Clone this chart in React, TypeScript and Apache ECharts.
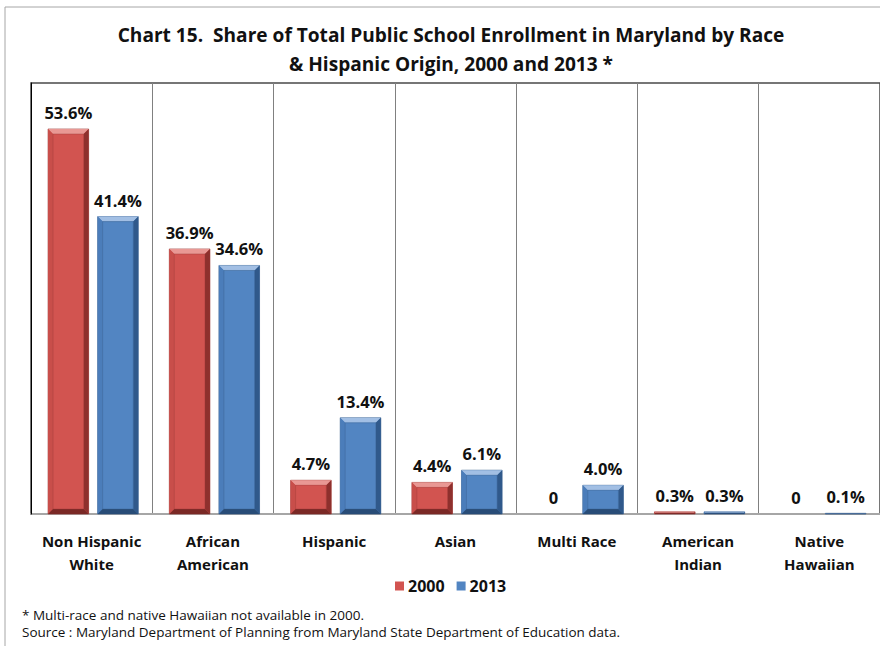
import React, { useEffect, useRef } from "react";
import * as echarts from "echarts";

const categories = [
  "Non Hispanic\nWhite",
  "African\nAmerican",
  "Hispanic",
  "Asian",
  "Multi Race",
  "American\nIndian",
  "Native\nHawaiian",
];
const years = ["2000", "2013"];
const values2000 = [53.6, 36.9, 4.7, 4.4, 0, 0.3, 0];
const values2013 = [41.4, 34.6, 13.4, 6.1, 4.0, 0.3, 0.1];

const titleText =
  "Chart 15.  Share of Total Public School Enrollment in Maryland by Race\n& Hispanic Origin, 2000 and 2013 *";
const note1 = "* Multi-race and native Hawaiian not available in 2000.";
const note2 =
  "Source : Maryland Department of Planning from Maryland State Department of Education data.";

const FONT = "'Open Sans', Lato, sans-serif";

type Pal = { face: string; top: string; left: string; right: string; bottom: string; stroke: string };
const palettes: Pal[] = [
  { face: "#D25450", top: "#E99894", left: "#C84E4A", right: "#8E302D", bottom: "#7A2825", stroke: "#9B3A37" },
  { face: "#5285C2", top: "#A2BFE4", left: "#4B7DBA", right: "#30598B", bottom: "#284C77", stroke: "#385D8A" },
];

function makeRender(si: number) {
  const pal = palettes[si];
  return (params: any, api: any) => {
    const ci = api.value(0);
    const v = api.value(1);
    const band = api.size([1, 0])[0];
    const barW = band * 0.335;
    const gap = band * 0.074;
    const basePt = api.coord([ci, 0]);
    const topPt = api.coord([ci, v]);
    const cx = basePt[0] + 1.5;
    const base = basePt[1];
    const top = topPt[1];
    const x = si === 0 ? cx - gap / 2 - barW : cx + gap / 2;
    const w = barW;
    const h = base - top;
    const b = Math.max(0, Math.min(5, h / 2, w / 2));
    const label = v === 0 ? "0" : v.toFixed(1) + "%";
    const children: any[] = [];
    if (h > 0) {
      children.push(
        { type: "rect", shape: { x, y: top, width: w, height: h }, style: { fill: pal.face, stroke: pal.stroke, lineWidth: 0.6 } },
        { type: "polygon", shape: { points: [[x, top], [x + w, top], [x + w - b, top + b], [x + b, top + b]] }, style: { fill: pal.top } },
        { type: "polygon", shape: { points: [[x, top], [x + b, top + b], [x + b, base - b], [x, base]] }, style: { fill: pal.left } },
        { type: "polygon", shape: { points: [[x + w, top], [x + w, base], [x + w - b, base - b], [x + w - b, top + b]] }, style: { fill: pal.right } },
        { type: "polygon", shape: { points: [[x, base], [x + w, base], [x + w - b, base - b], [x + b, base - b]] }, style: { fill: pal.bottom } },
        { type: "rect", shape: { x: x + b, y: top + b, width: Math.max(0, w - 2 * b), height: Math.max(0, h - 2 * b) }, style: { fill: pal.face, stroke: pal.stroke, lineWidth: 0.4 } }
      );
    }
    children.push({
      type: "text",
      style: {
        text: label,
        x: x + w / 2,
        y: top - 8,
        align: "center",
        verticalAlign: "bottom",
        fontSize: 16.5,
        fontWeight: "bold",
        fontFamily: FONT,
        fill: "#111111",
      },
    });
    return { type: "group", children };
  };
}

export default function App() {
  const ref = useRef<HTMLDivElement>(null);
  useEffect(() => {
    const chart = echarts.init(ref.current!, null, { renderer: "svg" });
    const option: any = {
      animation: false,
      backgroundColor: "#ffffff",
      grid: {
        left: 31,
        top: 83,
        width: 855,
        height: 431,
        show: true,
        borderColor: "#4a4a4a",
        borderWidth: 1.5,
        backgroundColor: "transparent",
      },
      xAxis: {
        type: "category",
        data: categories,
        axisLine: { show: true, lineStyle: { color: "#a6a6a6", width: 2 } },
        axisTick: { show: false },
        splitLine: { show: true, interval: 0, lineStyle: { color: "#808080", width: 1 } },
        axisLabel: {
          interval: 0,
          margin: 15,
          fontSize: 15,
          fontWeight: "bold",
          fontFamily: FONT,
          color: "#111111",
          lineHeight: 23,
        },
      },
      yAxis: {
        type: "value",
        min: 0,
        max: 60,
        z: 5,
        axisLine: { show: true, lineStyle: { color: "#000000", width: 1 } },
        axisTick: { show: false },
        axisLabel: { show: false },
        splitLine: { show: false },
      },
      legend: {
        data: years,
        left: 390,
        top: 573,
        icon: "rect",
        itemWidth: 9,
        itemHeight: 9,
        itemGap: 12,
        textStyle: { fontSize: 16, fontWeight: "bold", fontFamily: FONT, color: "#111111", padding: [0, 0, 0, -1] },
      },
      series: [
        {
          name: years[0],
          type: "custom",
          renderItem: makeRender(0),
          itemStyle: { color: palettes[0].face },
          encode: { x: 0, y: 1 },
          data: values2000.map((v, i) => [i, v]),
          z: 3,
        },
        {
          name: years[1],
          type: "custom",
          renderItem: makeRender(1),
          itemStyle: { color: palettes[1].face },
          encode: { x: 0, y: 1 },
          data: values2013.map((v, i) => [i, v]),
          z: 3,
        },
      ],
      graphic: [
        {
          type: "rect",
          shape: { x: 5, y: 7, width: 900, height: 700 },
          style: { fill: "none", stroke: "#a6a6a6", lineWidth: 1 },
          silent: true,
        },
        {
          type: "text",
          x: 451,
          y: 49,
          style: {
            text: titleText,
            align: "center",
            verticalAlign: "middle",
            fontSize: 19.1,
            fontWeight: "bold",
            fontFamily: FONT,
            lineHeight: 29,
            fill: "#111111",
          },
        },
        {
          type: "text",
          x: 22,
          y: 623.5,
          style: {
            text: note1 + "\n" + note2,
            fontSize: 13.5,
            lineHeight: 17,
            fontFamily: FONT,
            fill: "#111111",
            verticalAlign: "middle",
          },
        },
      ],
    };
    chart.setOption(option);
    return () => chart.dispose();
  }, []);
  return (
    <div
      ref={ref}
      style={{ position: "fixed", left: 0, top: 0, width: 880, height: 646, background: "#fff" }}
    />
  );
}
